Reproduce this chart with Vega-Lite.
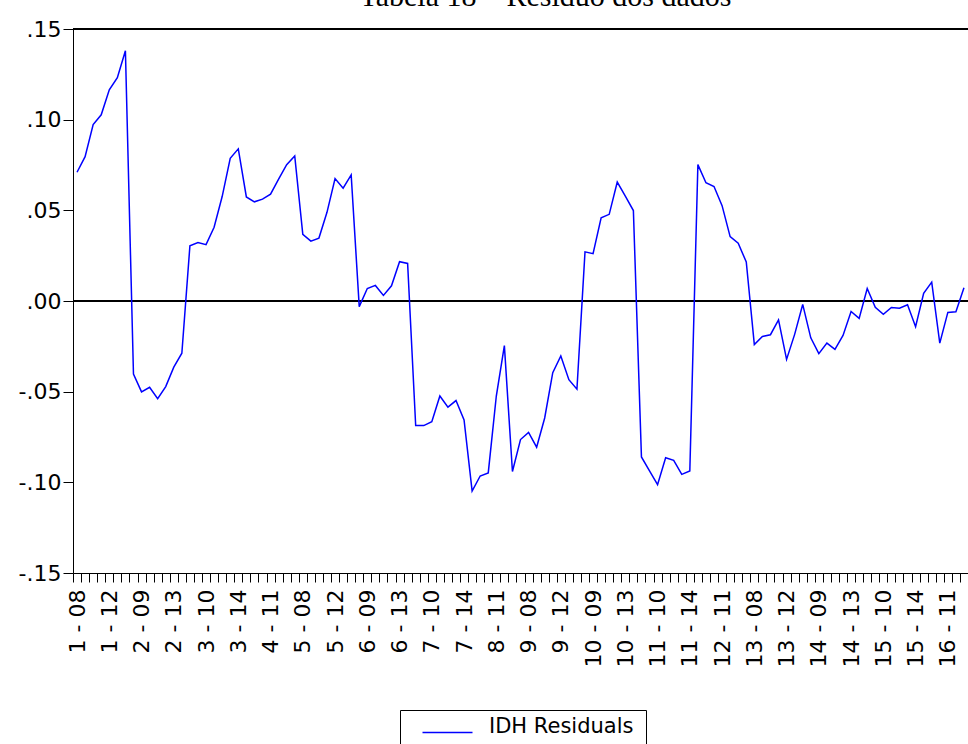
{
  "$schema": "https://vega.github.io/schema/vega-lite/v6.json",
  "autosize": {"type": "none"},
  "padding": {"left": 73, "top": 29, "right": 0, "bottom": 171},
  "width": 895,
  "height": 544,
  "background": "white",
  "title": {
    "text": "Tabela 18 – Resíduo dos dados",
    "font": "Liberation Serif",
    "fontSize": 30,
    "fontWeight": "normal",
    "color": "black",
    "anchor": "middle",
    "baseline": "alphabetic",
    "offset": 8,
    "dx": 25,
    "dy": 26
  },
  "config": {
    "view": {"stroke": null},
    "axis": {
      "domainColor": "black",
      "tickColor": "black",
      "labelColor": "black",
      "grid": false,
      "labelFont": "DejaVu Sans",
      "domainWidth": 1,
      "tickWidth": 1
    }
  },
  "data": {
    "values": [
      {"obs": "1 - 08", "resid": 0.0710}, {"obs": "1 - 09", "resid": 0.0796}, {"obs": "1 - 10", "resid": 0.0973}, {"obs": "1 - 11", "resid": 0.1027}, {"obs": "1 - 12", "resid": 0.1165}, {"obs": "1 - 13", "resid": 0.1232}, {"obs": "1 - 14", "resid": 0.1380},
      {"obs": "2 - 08", "resid": -0.0403}, {"obs": "2 - 09", "resid": -0.0501}, {"obs": "2 - 10", "resid": -0.0476}, {"obs": "2 - 11", "resid": -0.0539}, {"obs": "2 - 12", "resid": -0.0472}, {"obs": "2 - 13", "resid": -0.0365}, {"obs": "2 - 14", "resid": -0.0288},
      {"obs": "3 - 08", "resid": 0.0305}, {"obs": "3 - 09", "resid": 0.0322}, {"obs": "3 - 10", "resid": 0.0311}, {"obs": "3 - 11", "resid": 0.0407}, {"obs": "3 - 12", "resid": 0.0576}, {"obs": "3 - 13", "resid": 0.0787}, {"obs": "3 - 14", "resid": 0.0839},
      {"obs": "4 - 08", "resid": 0.0574}, {"obs": "4 - 09", "resid": 0.0547}, {"obs": "4 - 10", "resid": 0.0562}, {"obs": "4 - 11", "resid": 0.0589}, {"obs": "4 - 12", "resid": 0.0672}, {"obs": "4 - 13", "resid": 0.0752}, {"obs": "4 - 14", "resid": 0.0800},
      {"obs": "5 - 08", "resid": 0.0368}, {"obs": "5 - 09", "resid": 0.0330}, {"obs": "5 - 10", "resid": 0.0347}, {"obs": "5 - 11", "resid": 0.0489}, {"obs": "5 - 12", "resid": 0.0675}, {"obs": "5 - 13", "resid": 0.0622}, {"obs": "5 - 14", "resid": 0.0695},
      {"obs": "6 - 08", "resid": -0.0031}, {"obs": "6 - 09", "resid": 0.0069}, {"obs": "6 - 10", "resid": 0.0086}, {"obs": "6 - 11", "resid": 0.0031}, {"obs": "6 - 12", "resid": 0.0084}, {"obs": "6 - 13", "resid": 0.0217}, {"obs": "6 - 14", "resid": 0.0207},
      {"obs": "7 - 08", "resid": -0.0687}, {"obs": "7 - 09", "resid": -0.0687}, {"obs": "7 - 10", "resid": -0.0666}, {"obs": "7 - 11", "resid": -0.0524}, {"obs": "7 - 12", "resid": -0.0585}, {"obs": "7 - 13", "resid": -0.0549}, {"obs": "7 - 14", "resid": -0.0656},
      {"obs": "8 - 08", "resid": -0.1048}, {"obs": "8 - 09", "resid": -0.0965}, {"obs": "8 - 10", "resid": -0.0948}, {"obs": "8 - 11", "resid": -0.0524}, {"obs": "8 - 12", "resid": -0.0246}, {"obs": "8 - 13", "resid": -0.0940}, {"obs": "8 - 14", "resid": -0.0764},
      {"obs": "9 - 08", "resid": -0.0725}, {"obs": "9 - 09", "resid": -0.0806}, {"obs": "9 - 10", "resid": -0.0645}, {"obs": "9 - 11", "resid": -0.0395}, {"obs": "9 - 12", "resid": -0.0303}, {"obs": "9 - 13", "resid": -0.0434}, {"obs": "9 - 14", "resid": -0.0486},
      {"obs": "10 - 08", "resid": 0.0271}, {"obs": "10 - 09", "resid": 0.0261}, {"obs": "10 - 10", "resid": 0.0459}, {"obs": "10 - 11", "resid": 0.0478}, {"obs": "10 - 12", "resid": 0.0656}, {"obs": "10 - 13", "resid": 0.0578}, {"obs": "10 - 14", "resid": 0.0499},
      {"obs": "11 - 08", "resid": -0.0860}, {"obs": "11 - 09", "resid": -0.0937}, {"obs": "11 - 10", "resid": -0.1013}, {"obs": "11 - 11", "resid": -0.0864}, {"obs": "11 - 12", "resid": -0.0879}, {"obs": "11 - 13", "resid": -0.0956}, {"obs": "11 - 14", "resid": -0.0937},
      {"obs": "12 - 08", "resid": 0.0752}, {"obs": "12 - 09", "resid": 0.0652}, {"obs": "12 - 10", "resid": 0.0631}, {"obs": "12 - 11", "resid": 0.0526}, {"obs": "12 - 12", "resid": 0.0355}, {"obs": "12 - 13", "resid": 0.0319}, {"obs": "12 - 14", "resid": 0.0215},
      {"obs": "13 - 08", "resid": -0.0240}, {"obs": "13 - 09", "resid": -0.0196}, {"obs": "13 - 10", "resid": -0.0186}, {"obs": "13 - 11", "resid": -0.0104}, {"obs": "13 - 12", "resid": -0.0322}, {"obs": "13 - 13", "resid": -0.0184}, {"obs": "13 - 14", "resid": -0.0019},
      {"obs": "14 - 08", "resid": -0.0203}, {"obs": "14 - 09", "resid": -0.0290}, {"obs": "14 - 10", "resid": -0.0232}, {"obs": "14 - 11", "resid": -0.0267}, {"obs": "14 - 12", "resid": -0.0190}, {"obs": "14 - 13", "resid": -0.0058}, {"obs": "14 - 14", "resid": -0.0096},
      {"obs": "15 - 08", "resid": 0.0069}, {"obs": "15 - 09", "resid": -0.0035}, {"obs": "15 - 10", "resid": -0.0073}, {"obs": "15 - 11", "resid": -0.0036}, {"obs": "15 - 12", "resid": -0.0040}, {"obs": "15 - 13", "resid": -0.0021}, {"obs": "15 - 14", "resid": -0.0142},
      {"obs": "16 - 08", "resid": 0.0042}, {"obs": "16 - 09", "resid": 0.0104}, {"obs": "16 - 10", "resid": -0.0232}, {"obs": "16 - 11", "resid": -0.0063}, {"obs": "16 - 12", "resid": -0.0059}, {"obs": "16 - 13", "resid": 0.0073}
    ]
  },
  "layer": [
    {
      "mark": {"type": "rule", "color": "black", "strokeWidth": 1},
      "encoding": {"y": {"datum": 0.15, "type": "quantitative"}}
    },
    {
      "mark": {"type": "rule", "color": "black", "strokeWidth": 1},
      "encoding": {"y": {"datum": 0, "type": "quantitative"}}
    },
    {
      "mark": {"type": "line", "strokeWidth": 1.5, "clip": false},
      "encoding": {
        "x": {
          "field": "obs",
          "type": "nominal",
          "sort": null,
          "scale": {"type": "band", "paddingInner": 0, "paddingOuter": 0},
          "axis": {
            "title": null,
            "labelAngle": 270,
            "labelFontSize": 22,
            "tickSize": 9,
            "labelPadding": 7,
            "tickBand": "extent",
            "labelOverlap": false,
            "labelBound": false,
            "labelFlush": false,
            "labelExpr": "round(datum.index * 110) % 4 == 0 ? datum.label : ''"
          }
        },
        "y": {
          "field": "resid",
          "type": "quantitative",
          "scale": {"domain": [-0.15, 0.15], "nice": false, "zero": false},
          "axis": {
            "title": null,
            "values": [-0.15, -0.1, -0.05, 0, 0.05, 0.1, 0.15],
            "labelExpr": "replace(replace(format(datum.value, '.2f'), '0.', '.'), '\u2212', '-')",
            "labelFontSize": 22,
            "tickSize": 10,
            "labelPadding": 2
          }
        },
        "color": {
          "datum": "IDH Residuals",
          "type": "nominal",
          "scale": {"range": ["#0000ff"]},
          "legend": {
            "title": null,
            "orient": "none",
            "legendX": 327,
            "legendY": 681,
            "strokeColor": "black",
            "fillColor": "white",
            "padding": 12,
            "symbolType": "M0,0H10",
            "symbolSize": 100,
            "symbolStrokeWidth": 1.5,
            "symbolStrokeColor": "#0000ff",
            "symbolFillColor": "transparent",
            "labelFont": "DejaVu Sans",
            "labelFontSize": 21,
            "labelColor": "black",
            "labelBaseline": "alphabetic",
            "labelOffset": 56,
            "labelLimit": 400
          }
        }
      }
    }
  ]
}
